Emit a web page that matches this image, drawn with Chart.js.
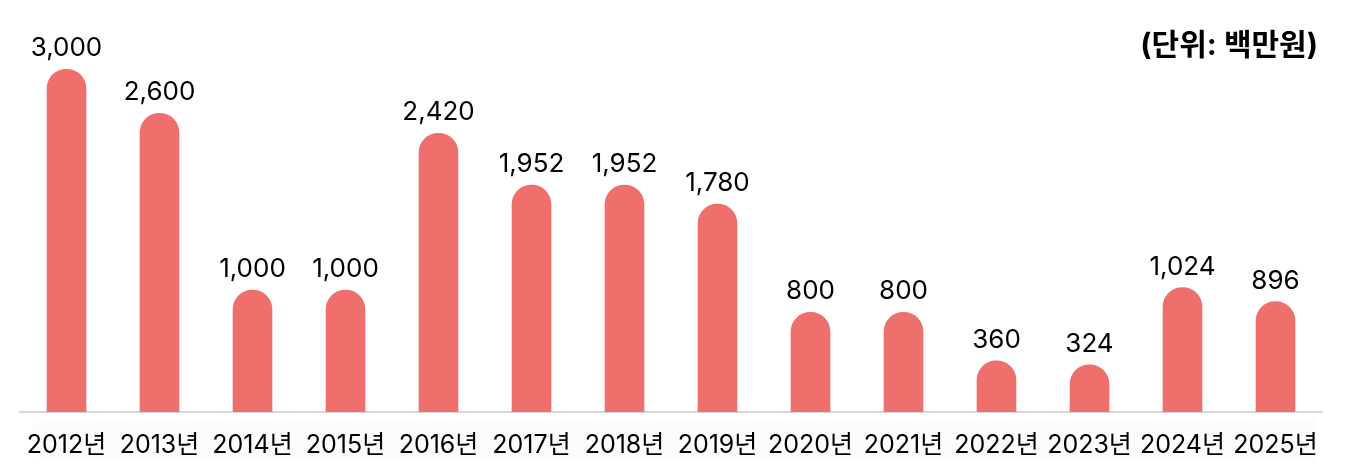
<!DOCTYPE html>
<html>
<head>
<meta charset="utf-8">
<script src="https://cdn.jsdelivr.net/npm/chart.js@4/dist/chart.umd.min.js"></script>
<style>
html,body{margin:0;padding:0;background:#fff;}
#wrap{width:1346px;height:472px;position:relative;}
</style>
</head>
<body>
<div id="wrap"><canvas id="c" width="1346" height="472"></canvas></div>
<script>
const years = ['2012년','2013년','2014년','2015년','2016년','2017년','2018년','2019년','2020년','2021년','2022년','2023년','2024년','2025년'];
const amounts = [3000, 2600, 1000, 1000, 2420, 1952, 1952, 1780, 800, 800, 360, 324, 1024, 896];
const unitLabel = '(단위: 백만원)';

const FONT = 'Inter, "Noto Sans CJK KR", sans-serif';

const extras = {
  id: 'extras',
  beforeDraw(chart) {
    const {ctx, chartArea} = chart;
    ctx.save();
    ctx.fillStyle = '#fdfcfa';
    ctx.fillRect(33, chartArea.bottom + 6, 1283, 44);
    ctx.restore();
  },
  afterDatasetsDraw(chart) {
    const {ctx} = chart;
    const meta = chart.getDatasetMeta(0);
    ctx.save();
    ctx.font = '26px ' + FONT;
    ctx.fillStyle = '#000';
    ctx.textAlign = 'center';
    ctx.textBaseline = 'alphabetic';
    meta.data.forEach((bar, i) => {
      ctx.fillText(amounts[i].toLocaleString('en-US'), bar.x, bar.y - 13);
    });
    ctx.font = 'bold 30px ' + FONT;
    ctx.textAlign = 'right';
    ctx.textBaseline = 'middle';
    ctx.fillText(unitLabel, 1318, 46);
    ctx.restore();
  }
};

new Chart(document.getElementById('c'), {
  type: 'bar',
  data: {
    labels: years,
    datasets: [{
      data: amounts,
      base: -103,
      backgroundColor: '#ef6f6c',
      barThickness: 39,
      borderRadius: {topLeft: 20, topRight: 20, bottomLeft: 0, bottomRight: 0},
      borderSkipped: 'bottom'
    }]
  },
  options: {
    responsive: false,
    animation: false,
    layout: {padding: {left: 20, right: 24, top: 35, bottom: 2}},
    plugins: {legend: {display: false}, tooltip: {enabled: false}, title: {display: false}},
    scales: {
      x: {
        grid: {display: false},
        border: {display: true, color: '#d8d8d8', width: 2},
        ticks: {color: '#000', font: {size: 25, family: FONT}, padding: 10, maxRotation: 0, autoSkip: false}
      },
      y: {
        display: false,
        min: -103,
        max: 3310
      }
    }
  },
  plugins: [extras]
});
</script>
</body>
</html>
